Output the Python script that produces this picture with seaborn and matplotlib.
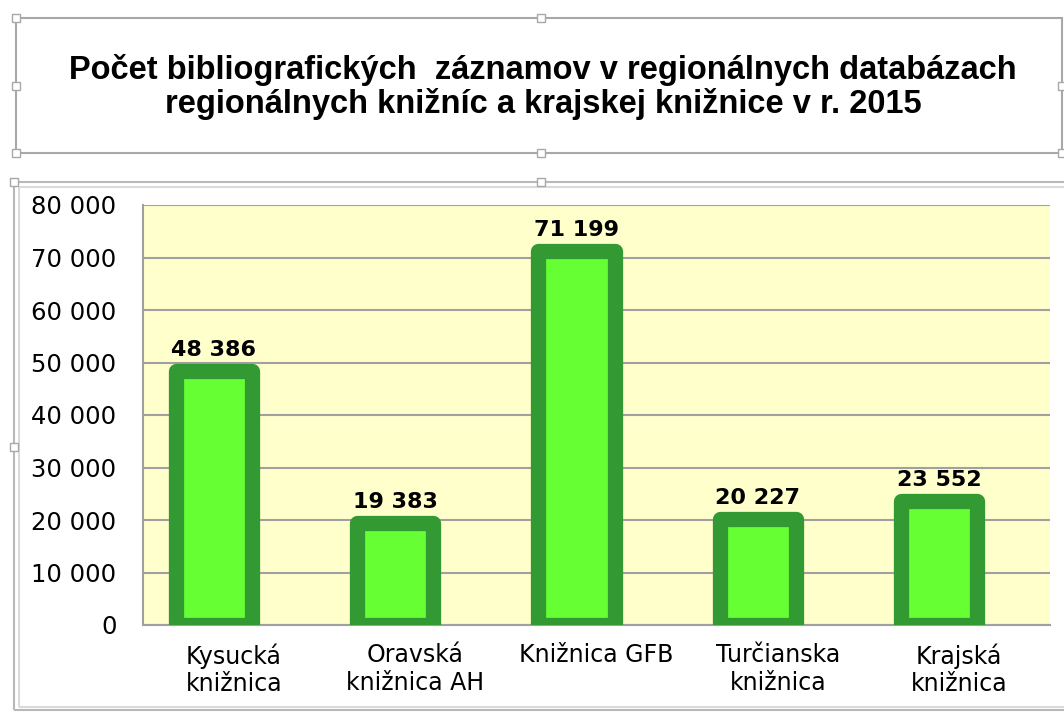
import matplotlib
matplotlib.use("Agg")
import matplotlib.pyplot as plt
from matplotlib.patches import Rectangle
from matplotlib.ticker import FuncFormatter, FixedLocator
import seaborn as sns
import pandas as pd

title = "Počet bibliografických  záznamov v regionálnych databázach\nregionálnych knižníc a krajskej knižnice v r. 2015"
libraries = ["Kysucká\nknižnica", "Oravská\nknižnica AH", "Knižnica GFB",
             "Turčianska\nknižnica", "Krajská\nknižnica"]
records = [48386, 19383, 71199, 20227, 23552]
y_ticks = [0, 10000, 20000, 30000, 40000, 50000, 60000, 70000, 80000]

df = pd.DataFrame({"kniznica": libraries, "zaznamy": records})

sns.set_style("white")
plt.rcParams["font.family"] = ["DejaVu Sans"]
plt.rcParams["text.color"] = "black"
plt.rcParams["xtick.color"] = "black"
plt.rcParams["ytick.color"] = "black"

W, H = 1064, 713
fig = plt.figure(figsize=(W / 100, H / 100), dpi=100)
ax = fig.add_axes([143 / W, 1 - 625 / H, (1050 - 143) / W, (625 - 205) / H])
ax.set_facecolor("#FFFFCC")

sns.barplot(data=df, x="kniznica", y="zaznamy", color="#66FF33",
            edgecolor="#339933", linewidth=11, width=0.42,
            saturation=1, ax=ax)
# bars sit a bit left of the category centre, as in the original
for p in ax.patches:
    p.set_joinstyle("round")
    p.set_zorder(3)
    p.set_x(p.get_x() - 0.11)

ax.set_ylim(0, 80000)
ax.set_xlim(-0.5, len(libraries) - 0.5)
ax.set_yticks(y_ticks)
ax.yaxis.set_major_formatter(FuncFormatter(lambda v, _: f"{int(v):,}".replace(",", " ")))
ax.grid(axis="y", color="#A0A0A0", linewidth=1.5, zorder=0)
ax.set_axisbelow(True)
ax.set_xlabel("")
ax.set_ylabel("")

for s in ["top", "right"]:
    ax.spines[s].set_visible(False)
for s in ["left", "bottom"]:
    ax.spines[s].set_color("#A0A0A0")
    ax.spines[s].set_linewidth(1.5)

ax.tick_params(axis="y", length=7, width=1.2, color="#A0A0A0", labelcolor="black",
               labelsize=17.5, pad=12)
ax.tick_params(axis="x", which="major", length=0, labelcolor="black", labelsize=17, pad=13)
ax.xaxis.set_minor_locator(FixedLocator([i - 0.5 for i in range(len(libraries) + 1)]))
ax.tick_params(axis="x", which="minor", length=7, width=1.2, color="#A0A0A0")

for lbl in ax.get_xticklabels():
    lbl.set_linespacing(1.2)

ax.bar_label(ax.containers[0], labels=[f"{v:,}".replace(",", " ") for v in records],
             padding=8, fontsize=16, fontweight="bold", color="black")


def frame(x0, y0, x1, y1, color, lw):
    fig.patches.append(Rectangle((x0 / W, 1 - y1 / H), (x1 - x0) / W, (y1 - y0) / H,
                                 transform=fig.transFigure, fill=False,
                                 edgecolor=color, linewidth=lw))


def handle(hx, hy):
    fig.patches.append(Rectangle(((hx - 4) / W, 1 - (hy + 4) / H), 8 / W, 8 / H,
                                 transform=fig.transFigure, facecolor="white",
                                 edgecolor="#A8A8A8", linewidth=1))


# title box
frame(16, 18, 1062, 153, "#A8A8A8", 1.5)
for hx, hy in [(16, 18), (541, 18), (16, 86), (16, 153), (541, 153), (1062, 153), (1062, 86)]:
    handle(hx, hy)
# chart area
frame(14, 182, 1075, 710, "#B8B8B8", 1.5)
frame(19, 187, 1075, 707, "#DADADA", 1.5)
for hx, hy in [(14, 182), (541, 182), (14, 447)]:
    handle(hx, hy)

fig.text(543 / W, 1 - 87 / H, title, ha="center", va="center", fontsize=23.5,
         fontweight="bold", linespacing=1.08, family="Liberation Sans")

fig.savefig("out.png", dpi=100)
